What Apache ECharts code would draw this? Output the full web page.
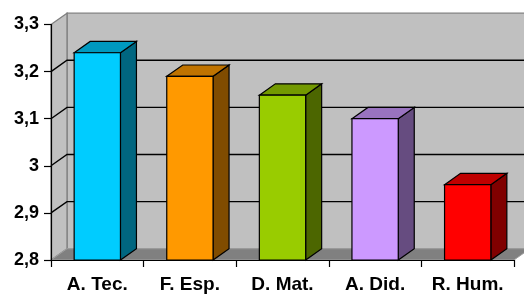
<!DOCTYPE html>
<html>
<head>
<meta charset="utf-8">
<script src="https://cdn.jsdelivr.net/npm/echarts@6/dist/echarts.min.js"></script>
<style>
html,body{margin:0;padding:0;background:#fff;}
#chart{width:524px;height:298px;}
</style>
</head>
<body>
<div id="chart"></div>
<script>
// ---- data ----
var categories = ['A. Tec.', 'F. Esp.', 'D. Mat.', 'A. Did.', 'R. Hum.'];
var values = [3.24, 3.19, 3.15, 3.10, 2.96];
var yTickValues = [2.8, 2.9, 3.0, 3.1, 3.2, 3.3];
var yTickLabels = ['2,8', '2,9', '3', '3,1', '3,2', '3,3'];

// ---- styles ----
var frontColors = ['#00CCFF', '#FF9900', '#99CC00', '#CC99FF', '#FF0000'];
var topColors   = ['#0099BF', '#BF7300', '#739900', '#9973BF', '#BF0000'];
var sideColors  = ['#006680', '#804C00', '#4C6600', '#664C80', '#800000'];
var DX = 16, DY = -11.3;
var FONT = '"Liberation Sans", Arial, sans-serif';

var chart = echarts.init(document.getElementById('chart'), null, {renderer: 'canvas'});

function renderWalls(params, api) {
  var cs = params.coordSys;
  var x0 = cs.x, x1 = cs.x + cs.width;
  var yTop = api.coord([0, yTickValues[yTickValues.length - 1]])[1];
  var yBot = api.coord([0, yTickValues[0]])[1];
  var far = x1 + DX + 40;
  var children = [];
  // back wall
  children.push({type: 'polygon', shape: {points: [[x0 + DX, yTop + DY], [far, yTop + DY], [far, yBot + DY], [x0 + DX, yBot + DY]]},
    style: {fill: '#C0C0C0', stroke: '#808080', lineWidth: 1.3}});
  // left wall
  children.push({type: 'polygon', shape: {points: [[x0, yTop], [x0 + DX, yTop + DY], [x0 + DX, yBot + DY], [x0, yBot]]},
    style: {fill: '#C0C0C0', stroke: '#808080', lineWidth: 1.3}});
  // floor
  children.push({type: 'polygon', shape: {points: [[x0, yBot], [x0 + DX, yBot + DY], [x1 + DX, yBot + DY], [x1, yBot]]},
    style: {fill: '#808080', stroke: '#A0A0A0', lineWidth: 1}});
  // gridlines
  for (var i = 1; i < yTickValues.length - 1; i++) {
    var y = api.coord([0, yTickValues[i]])[1];
    children.push({type: 'polyline', shape: {points: [[x0, y], [x0 + DX, y + DY], [far, y + DY]]},
      style: {stroke: '#000', lineWidth: 1.4, fill: null}});
  }
  return {type: 'group', children: children};
}

function renderBar(params, api) {
  var idx = api.value(0);
  var val = api.value(1);
  var pt = api.coord([idx, val]);
  var base = api.coord([idx, yTickValues[0]]);
  var bw = api.size([1, 0])[0] * 0.5;
  var xl = pt[0] - bw / 2, xr = pt[0] + bw / 2, yt = pt[1], yb = base[1];
  var i = params.dataIndex;
  return {type: 'group', children: [
    {type: 'polygon', shape: {points: [[xr, yt], [xr + DX, yt + DY], [xr + DX, yb + DY], [xr, yb]]},
      style: {fill: sideColors[i], stroke: '#000', lineWidth: 1.2}},
    {type: 'polygon', shape: {points: [[xl, yt], [xl + DX, yt + DY], [xr + DX, yt + DY], [xr, yt]]},
      style: {fill: topColors[i], stroke: '#000', lineWidth: 1.2}},
    {type: 'rect', shape: {x: xl, y: yt, width: bw, height: yb - yt},
      style: {fill: frontColors[i], stroke: '#000', lineWidth: 1.2}}
  ]};
}

chart.setOption({
  animation: false,
  backgroundColor: '#ffffff',
  grid: {left: 51, right: 10, top: 24.5, bottom: 38},
  xAxis: {
    type: 'category',
    data: categories,
    boundaryGap: true,
    axisLine: {show: true, lineStyle: {color: '#000', width: 1.2}},
    axisTick: {show: true, length: 7, lineStyle: {color: '#000', width: 1.2}},
    axisLabel: {interval: 0, color: '#000', fontWeight: 'bold', fontSize: 19, fontFamily: FONT, margin: 15},
    z: 3
  },
  yAxis: {
    type: 'value',
    min: yTickValues[0],
    max: yTickValues[yTickValues.length - 1],
    interval: 0.1,
    axisLine: {show: true, lineStyle: {color: '#000', width: 1.2}},
    axisTick: {show: true, length: 7, lineStyle: {color: '#000', width: 1.2}},
    splitLine: {show: false},
    axisLabel: {color: '#000', fontWeight: 'bold', fontSize: 18, fontFamily: FONT, margin: 12,
      formatter: function (v) {
        for (var i = 0; i < yTickValues.length; i++) {
          if (Math.abs(yTickValues[i] - v) < 1e-6) return yTickLabels[i];
        }
        return '';
      }},
    z: 3
  },
  series: [
    {type: 'custom', renderItem: renderWalls, data: [[0, yTickValues[0]]], clip: false, z: 1, silent: true},
    {type: 'custom', renderItem: renderBar, data: values.map(function (v, i) { return [i, v]; }), clip: false, z: 4}
  ]
});
</script>
</body>
</html>
